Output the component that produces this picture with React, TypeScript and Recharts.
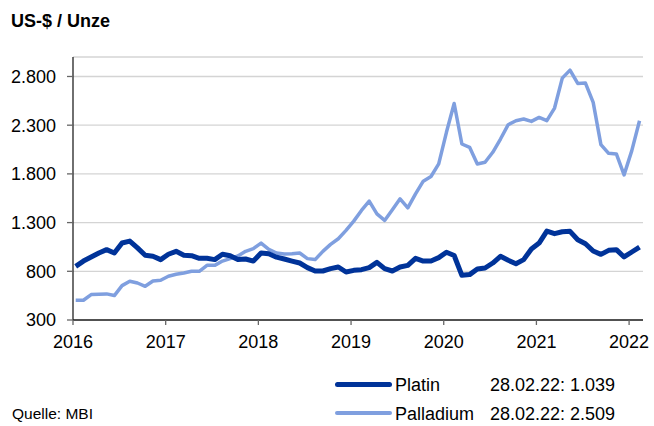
import { LineChart, Line, XAxis, YAxis, CartesianGrid } from 'recharts'

// monthly values, Jan 2016 .. Feb 2022
const platin = [
  851, 905, 947, 988, 1022, 988, 1090, 1110, 1040, 965, 955, 920,
  975, 1005, 965, 960, 933, 933, 920, 975, 960, 920, 926, 905,
  988, 980, 945, 926, 905, 885, 838, 803, 803, 827, 844, 793,
  810, 817, 838, 892, 827, 803, 844, 861, 933, 905, 905, 940,
  995, 962, 759, 766, 824, 834, 885, 954, 913, 878, 920, 1029,
  1090, 1213, 1186, 1206, 1210, 1124, 1083, 1008, 974, 1015, 1022, 947,
  998, 1049
]

const palladium = [
  503, 503, 561, 565, 568, 551, 653, 698, 680, 646, 701, 708,
  749, 769, 783, 800, 800, 861, 861, 905, 930, 957, 1005, 1032,
  1090, 1025, 988, 977, 980, 988, 930, 920, 1005, 1076, 1134, 1220,
  1315, 1425, 1520, 1390, 1322, 1431, 1544, 1452, 1595, 1725, 1773, 1902,
  2227, 2523, 2107, 2073, 1902, 1919, 2022, 2158, 2305, 2346, 2363, 2339,
  2380, 2346, 2476, 2783, 2865, 2729, 2732, 2534, 2100, 2011, 2005, 1790,
  2039, 2346
]

const yearTicks = [2016, 2017, 2018, 2019, 2020, 2021, 2022]
const valueTicks = [300, 800, 1300, 1800, 2300, 2800]

const legendItems = [
  { name: 'Platin', last: '28.02.22: 1.039', color: '#003399', width: 5 },
  { name: 'Palladium', last: '28.02.22: 2.509', color: '#7f9fdf', width: 3.5 }
]

const data = platin.map((p, i) => ({
  t: 2016 + (i + 0.35) / 12,
  platin: p,
  palladium: palladium[i]
}))

const font = '"Liberation Sans", Arial, sans-serif'
const fmt = (v: number) => v.toLocaleString('de-DE')

export default function App() {
  return (
    <div style={{ position: 'absolute', left: 0, top: 0, width: 654, height: 426, background: '#fff', fontFamily: font }}>
      <div style={{ position: 'absolute', left: 11, top: 11, fontSize: 18, fontWeight: 'bold', color: '#000' }}>
        US-$ / Unze
      </div>

      <LineChart
        width={654}
        height={426}
        data={data}
        margin={{ top: 57, right: 11, left: 0, bottom: 76 }}
      >
        <CartesianGrid horizontal vertical={false} stroke="#d4d4d4" strokeWidth={1.3} />
        <XAxis
          dataKey="t"
          type="number"
          domain={[2016, 2022.15]}
          ticks={yearTicks}
          height={30}
          tickSize={5}
          tickMargin={10}
          axisLine={{ stroke: '#222', strokeWidth: 1.3 }}
          tickLine={{ stroke: '#666', strokeWidth: 1.3 }}
          tick={{ fill: '#000', fontSize: 18, fontFamily: font }}
        />
        <YAxis
          type="number"
          domain={[300, 3000]}
          ticks={valueTicks}
          width={73}
          tickSize={6}
          tickMargin={11}
          tickFormatter={fmt}
          axisLine={{ stroke: '#222', strokeWidth: 1.3 }}
          tickLine={{ stroke: '#666', strokeWidth: 1.3 }}
          tick={{ fill: '#000', fontSize: 18, fontFamily: font }}
        />
        <Line
          dataKey="palladium"
          stroke="#7f9fdf"
          strokeWidth={3.5}
          dot={false}
          strokeLinejoin="round"
          isAnimationActive={false}
        />
        <Line
          dataKey="platin"
          stroke="#003399"
          strokeWidth={5}
          dot={false}
          strokeLinejoin="round"
          isAnimationActive={false}
        />
      </LineChart>

      {legendItems.map((item, i) => (
        <div key={item.name} style={{ position: 'absolute', left: 335, top: 375 + i * 29, height: 20, width: 300, fontSize: 18, color: '#000' }}>
          <div style={{ position: 'absolute', left: 0, top: 9 - item.width / 2, width: 57, height: item.width, background: item.color, borderRadius: item.width }} />
          <span style={{ position: 'absolute', left: 60, top: 0 }}>{item.name}</span>
          <span style={{ position: 'absolute', left: 155, top: 0 }}>{item.last}</span>
        </div>
      ))}

      <div style={{ position: 'absolute', left: 12, top: 405, fontSize: 15.5, color: '#000' }}>
        Quelle: MBI
      </div>
    </div>
  )
}
